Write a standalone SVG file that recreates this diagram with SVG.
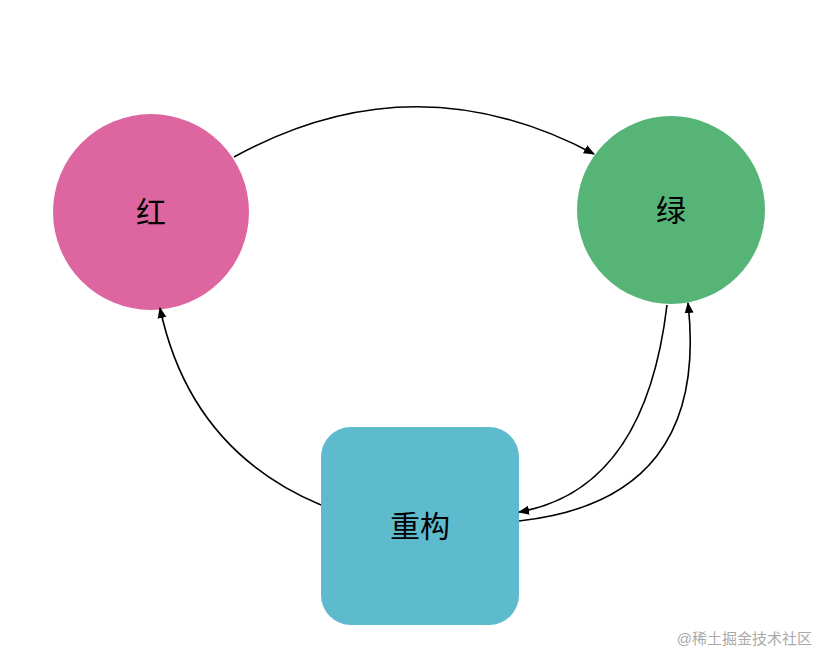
<svg xmlns="http://www.w3.org/2000/svg" width="832" height="668" viewBox="0 0 832 668">
<style>
.lbl{font-family:"Liberation Sans","Noto Sans CJK SC",sans-serif;fill:#000;text-anchor:middle;dominant-baseline:central}
.c{fill:none;stroke:#000;stroke-width:1.6}
</style>
<defs><marker id="a" viewBox="0 0 10 10" refX="9" refY="5" markerWidth="7" markerHeight="7" orient="auto"><path d="M0,1 L10,5 L0,9 z" fill="#000"/></marker></defs>
<rect width="832" height="668" fill="#fff"/>
<g id="red"><circle cx="151" cy="212" r="98" fill="#DE66A0"/><text class="lbl" x="151" y="212" font-size="30">红</text></g>
<g id="green"><circle cx="671" cy="210" r="94" fill="#55B476"/><text class="lbl" x="671" y="210" font-size="30">绿</text></g>
<g id="rebuild"><rect x="321" y="427" width="198" height="198" rx="30" fill="#5DBBCD"/><text class="lbl" x="420" y="526" font-size="30">重构</text></g>
<g id="connectors">
<path class="c" d="M234,157 Q414,58 594,154" marker-end="url(#a)"/>
<path class="c" d="M321,505 Q190,450 160,308" marker-end="url(#a)"/>
<path class="c" d="M667,305 Q645,490 519,512" marker-end="url(#a)"/>
<path class="c" d="M519,521 Q710,500 688,303" marker-end="url(#a)"/>
</g>
<text x="812" y="644" font-family="Liberation Sans,Noto Sans CJK SC,sans-serif" font-size="15" fill="#aaa" text-anchor="end">@稀土掘金技术社区</text>
</svg>
